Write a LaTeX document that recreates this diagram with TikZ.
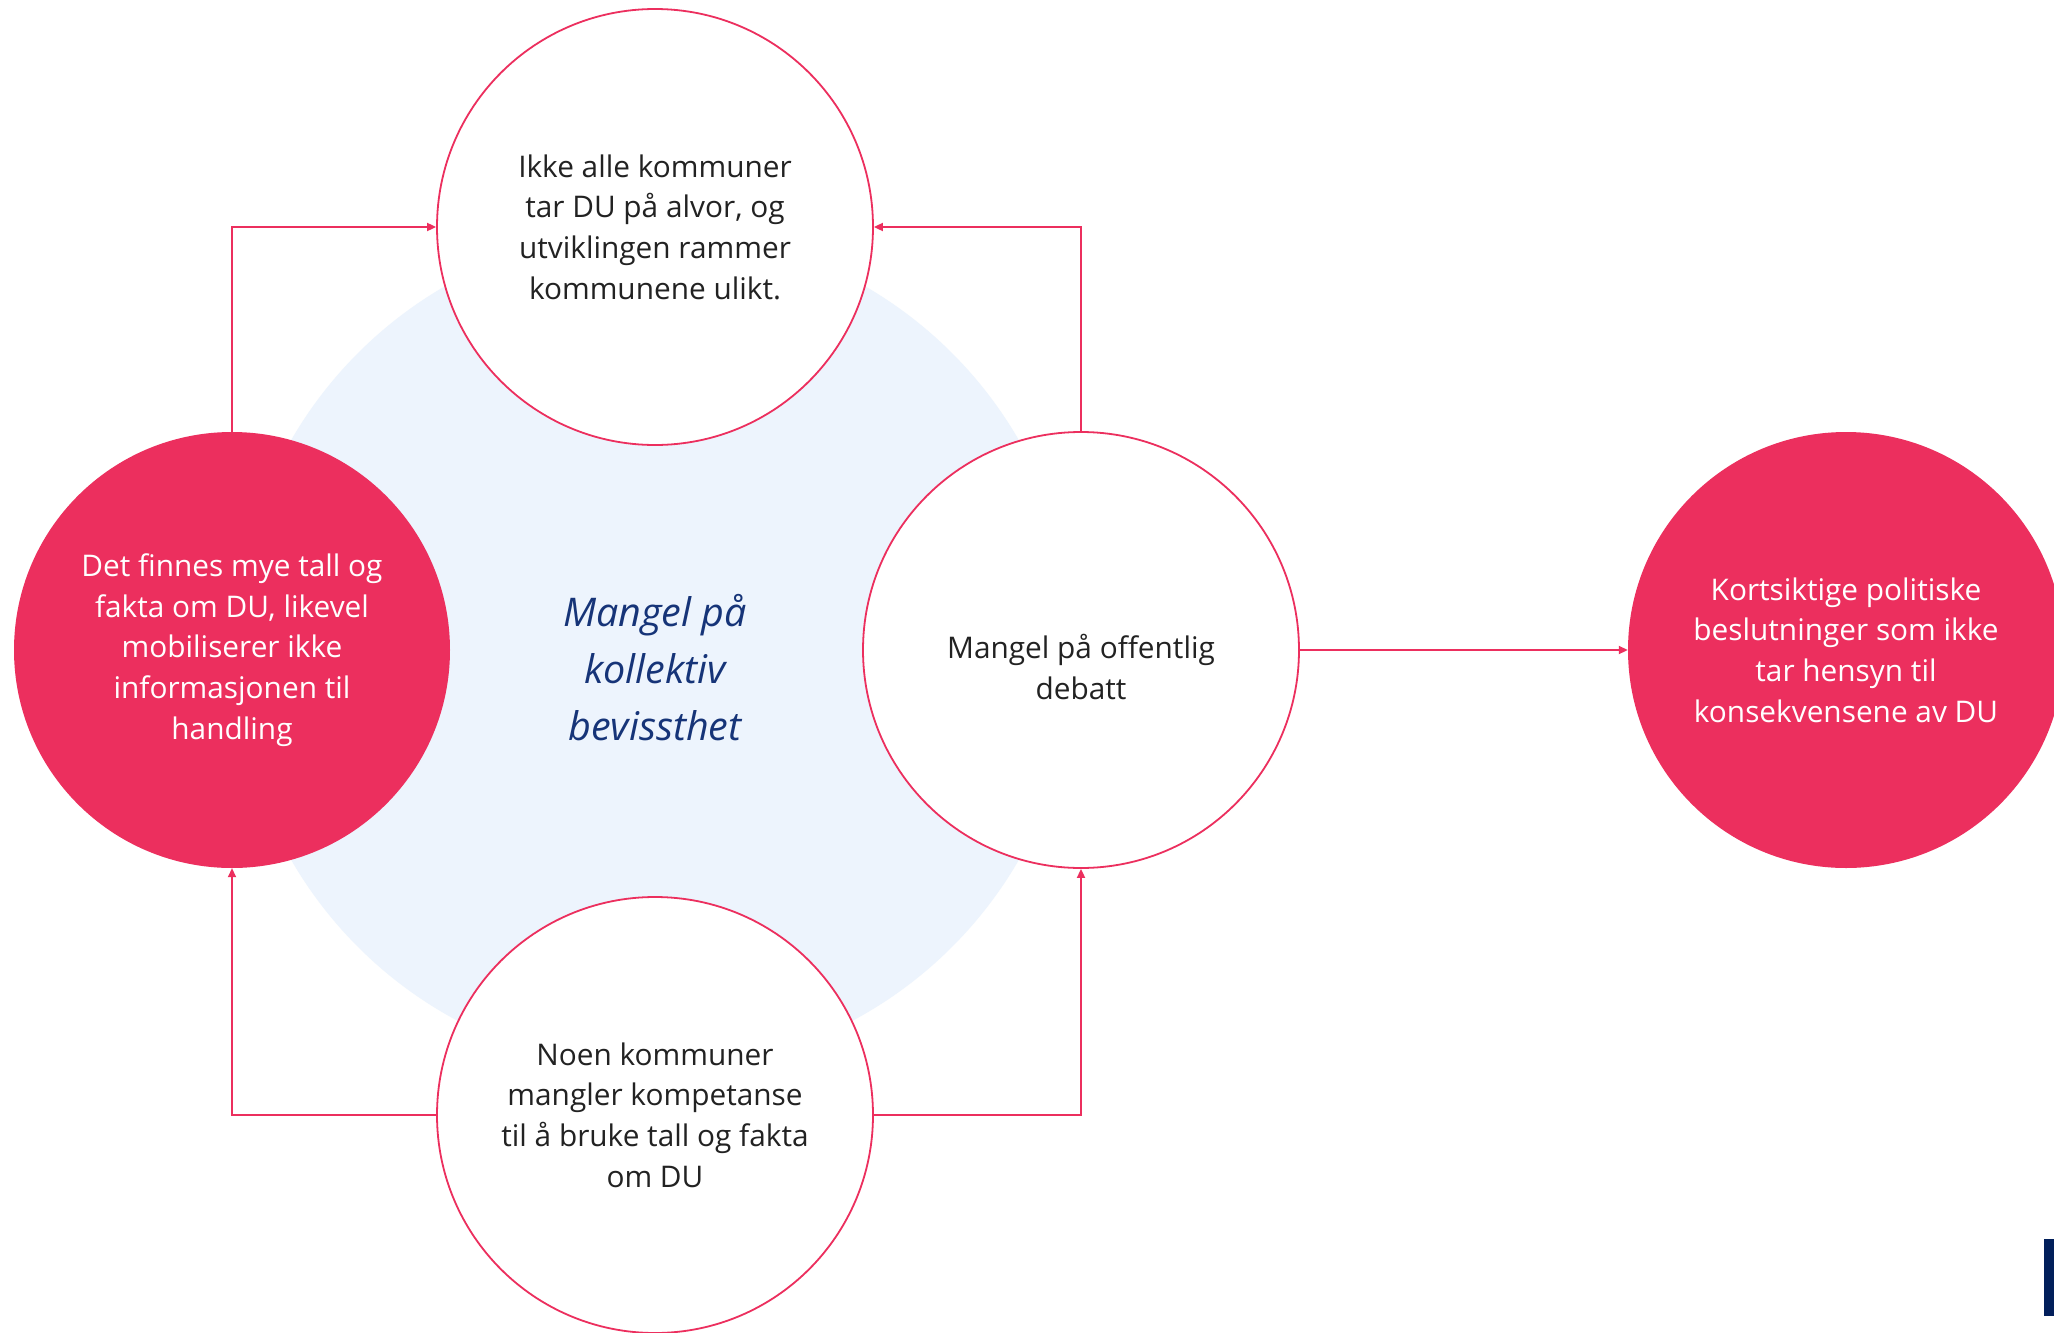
\documentclass[tikz,border=0pt]{standalone}
\usepackage{fontspec}
\setmainfont{Open Sans}
\usetikzlibrary{arrows.meta}
\definecolor{pinkc}{RGB}{236,47,94}
\definecolor{lightbg}{RGB}{237,244,253}
\definecolor{navyt}{RGB}{22,52,120}
\definecolor{navyr}{RGB}{2,31,91}
\definecolor{darkt}{RGB}{34,34,34}
\tikzset{
  bubble/.style={circle, minimum size=436pt, inner sep=0pt, align=center,
    font=\fontsize{29.8}{40.6}\selectfont},
  openbubble/.style={bubble, draw=pinkc, line width=1.8pt, fill=white, text=darkt},
  filledbubble/.style={bubble, fill=pinkc, text=white},
  conn/.style={draw=pinkc, line width=1.8pt, -{Triangle[length=9pt,width=8pt]}},
}
\begin{document}
\begin{tikzpicture}[x=1pt,y=-1pt]
\clip (0,0) rectangle (2054,1333);
\useasboundingbox (0,0) rectangle (2054,1333);
\fill[white] (0,0) rectangle (2054,1333);
\fill[lightbg] (655,650) circle (420);
\node[filledbubble] (L) at (232,650) {Det finnes mye tall og\\fakta om DU, likevel\\mobiliserer ikke\\informasjonen til\\handling};
\node[openbubble] (T) at (655,227) {Ikke alle kommuner\\tar DU på alvor, og\\utviklingen rammer\\kommunene ulikt.};
\node[openbubble] (R) at (1081,650) {};
\node[openbubble] (B) at (655,1115) {Noen kommuner\\mangler kompetanse\\til å bruke tall og fakta\\om DU};
\node[filledbubble] (F) at (1846,650) {Kortsiktige politiske\\beslutninger som ikke\\tar hensyn til\\konsekvensene av DU};
\node[align=center, text=darkt, font=\fontsize{29.8}{40.6}\selectfont] (RT) at (1081,667) {Mangel på offentlig\\debatt};
\node[align=center, text=navyt, font=\fontsize{39.5}{57}\selectfont\itshape] (C) at (655,668) {Mangel på\\kollektiv\\bevissthet};
\draw[conn] (L.north) |- (T.west);
\draw[conn] (R.north) |- (T.east);
\draw[conn] (B.west) -| (L.south);
\draw[conn] (B.east) -| (R.south);
\draw[conn] (R.east) -- (F.west);
\fill[navyr] (2044,1239) rectangle (2054,1316);
\end{tikzpicture}
\end{document}
